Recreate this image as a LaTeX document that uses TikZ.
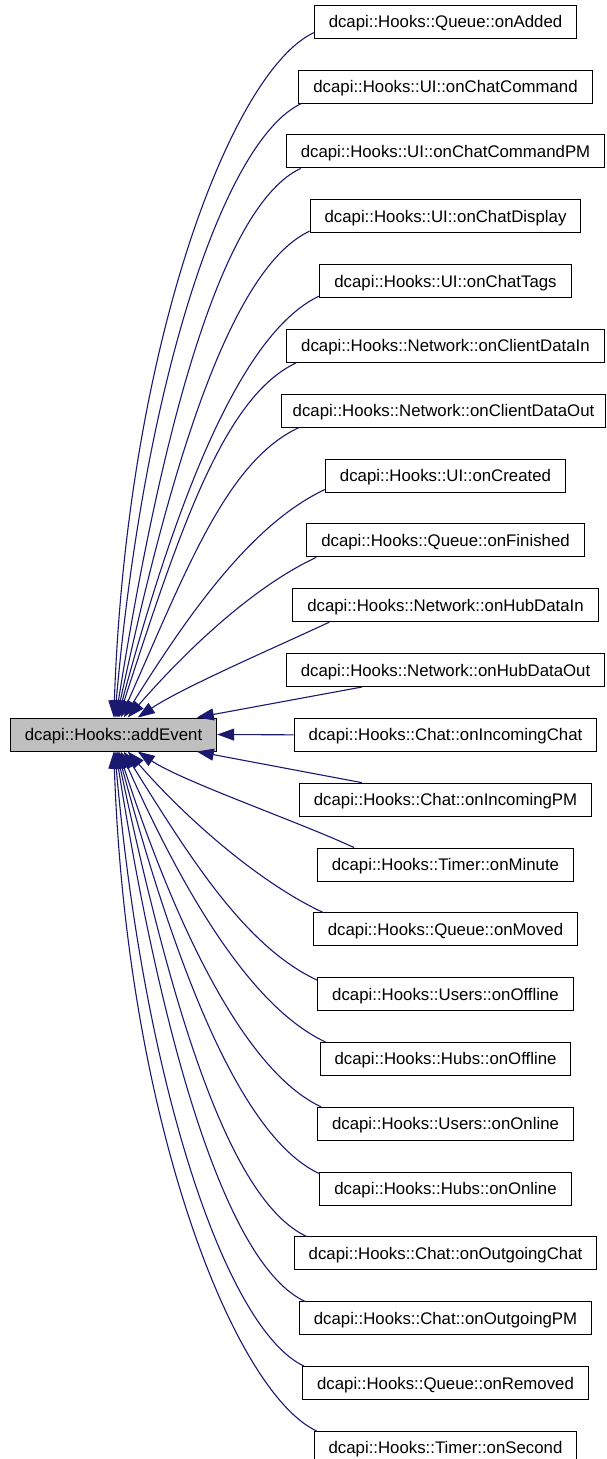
\documentclass[tikz,border=0pt]{standalone}
\usepackage{fontspec}
\setmainfont{Liberation Sans}
\usetikzlibrary{arrows.meta,calc}
\definecolor{edgeblue}{HTML}{191970}
\definecolor{focusgrey}{HTML}{BFBFBF}
\tikzset{
  fn/.style={draw=black, line width=1pt, fill=white,
    font=\fontsize{16.8pt}{20pt}\selectfont,
    inner xsep=14.5pt, inner ysep=0pt, minimum height=33pt,
    text height=12pt, text depth=0pt},
  focus/.style={fn, fill=focusgrey},
  edge/.style={draw=edgeblue, line width=1.1pt,
    -{Triangle[length=17pt,width=12pt]}}
}
\begin{document}
\begin{tikzpicture}[x=1pt,y=1pt]
\useasboundingbox (0,0) rectangle (606,-1459);
\fill[white] (0,0) rectangle (606,-1459);

\node[focus] (ae) at (113.5,-734.5) {dcapi::Hooks::addEvent};

\node[fn] (r0)  at (445.5,-21.7)   {dcapi::Hooks::Queue::onAdded};
\node[fn] (r1)  at (445.5,-86.53)  {dcapi::Hooks::UI::onChatCommand};
\node[fn] (r2)  at (445.5,-151.36) {dcapi::Hooks::UI::onChatCommandPM};
\node[fn] (r3)  at (445.5,-216.19) {dcapi::Hooks::UI::onChatDisplay};
\node[fn] (r4)  at (445.5,-281.02) {dcapi::Hooks::UI::onChatTags};
\node[fn] (r5)  at (445.5,-345.85) {dcapi::Hooks::Network::onClientDataIn};
\node[fn, inner xsep=11.5pt] (r6)  at (443.5,-410.68) {dcapi::Hooks::Network::onClientDataOut};
\node[fn] (r7)  at (445.5,-475.51) {dcapi::Hooks::UI::onCreated};
\node[fn] (r8)  at (445.5,-540.34) {dcapi::Hooks::Queue::onFinished};
\node[fn] (r9)  at (445.5,-605.17) {dcapi::Hooks::Network::onHubDataIn};
\node[fn] (r10) at (445.5,-670.0)  {dcapi::Hooks::Network::onHubDataOut};
\node[fn] (r11) at (445.5,-734.83) {dcapi::Hooks::Chat::onIncomingChat};
\node[fn] (r12) at (445.5,-799.66) {dcapi::Hooks::Chat::onIncomingPM};
\node[fn] (r13) at (445.5,-864.49) {dcapi::Hooks::Timer::onMinute};
\node[fn] (r14) at (445.5,-929.32) {dcapi::Hooks::Queue::onMoved};
\node[fn] (r15) at (445.5,-994.15) {dcapi::Hooks::Users::onOffline};
\node[fn] (r16) at (445.5,-1058.98) {dcapi::Hooks::Hubs::onOffline};
\node[fn] (r17) at (445.5,-1123.81) {dcapi::Hooks::Users::onOnline};
\node[fn] (r18) at (445.5,-1188.64) {dcapi::Hooks::Hubs::onOnline};
\node[fn] (r19) at (445.5,-1253.47) {dcapi::Hooks::Chat::onOutgoingChat};
\node[fn] (r20) at (445.5,-1318.3)  {dcapi::Hooks::Chat::onOutgoingPM};
\node[fn] (r21) at (445.5,-1383.13) {dcapi::Hooks::Queue::onRemoved};
\node[fn] (r22) at (445.5,-1447.96) {dcapi::Hooks::Timer::onSecond};

% upper edges
\draw[edge] ($(r0.south west)+(0,6)$)  to[out=205,in=88,out distance=90pt,in distance=374pt] ($(ae.north west)+(104,0)$);
\draw[edge] ($(r1.south west)+(3,0)$)  to[out=205,in=85,out distance=85pt,in distance=338pt] ($(ae.north west)+(105,0)$);
\draw[edge] ($(r2.south west)+(15,0)$) to[out=205,in=81,out distance=85pt,in distance=303pt] ($(ae.north west)+(106,0)$);
\draw[edge] ($(r3.south west)+(0,2)$)  to[out=205,in=78,out distance=85pt,in distance=267pt] ($(ae.north west)+(107,0)$);
\draw[edge] ($(r4.south west)+(0,2)$)  to[out=205,in=75,out distance=85pt,in distance=231pt] ($(ae.north west)+(108,0)$);
\draw[edge] ($(r5.south west)+(10,0)$) to[out=205,in=72,out distance=80pt,in distance=196pt] ($(ae.north west)+(109,0)$);
\draw[edge] ($(r6.south west)+(18,0)$) to[out=205,in=66,out distance=80pt,in distance=160pt] ($(ae.north west)+(111,0)$);
\draw[edge] ($(r7.south west)+(0,3)$)  to[out=205,in=58,out distance=80pt,in distance=124pt] ($(ae.north west)+(114,0)$);
\draw[edge] ($(r8.south west)+(10,0)$) to[out=205,in=49,out distance=70pt,in distance=89pt]  ($(ae.north west)+(118,0)$);
\draw[edge] ($(r9.south west)+(37,0)$) to[out=205,in=34,out distance=60pt,in distance=53pt]  ($(ae.north west)+(128,0)$);
% near edges
\draw[edge] ($(r10.south)+(-83.5,0)$) -- ($(ae.north west)+(187,0)$);
\draw[edge] (r11.west) -- (ae.east);
\draw[edge] ($(r12.north)+(-83.5,0)$) -- ($(ae.south west)+(187,0)$);
% lower edges
\draw[edge] ($(r13.north west)+(37,0)$) to[out=155,in=-34,out distance=60pt,in distance=53pt]  ($(ae.south west)+(128,0)$);
\draw[edge] ($(r14.north west)+(10,0)$) to[out=155,in=-49,out distance=70pt,in distance=89pt]  ($(ae.south west)+(118,0)$);
\draw[edge] ($(r15.north west)+(0,-3)$) to[out=155,in=-58,out distance=80pt,in distance=124pt] ($(ae.south west)+(114,0)$);
\draw[edge] ($(r16.north west)+(6,0)$)  to[out=155,in=-66,out distance=80pt,in distance=160pt] ($(ae.south west)+(111,0)$);
\draw[edge] ($(r17.north west)+(4,0)$)  to[out=155,in=-72,out distance=80pt,in distance=196pt] ($(ae.south west)+(109,0)$);
\draw[edge] ($(r18.north west)+(0,-2)$) to[out=155,in=-75,out distance=85pt,in distance=231pt] ($(ae.south west)+(108,0)$);
\draw[edge] ($(r19.north west)+(13,0)$) to[out=155,in=-78,out distance=85pt,in distance=267pt] ($(ae.south west)+(107,0)$);
\draw[edge] ($(r20.north west)+(6,0)$)  to[out=155,in=-81,out distance=85pt,in distance=303pt] ($(ae.south west)+(106,0)$);
\draw[edge] ($(r21.north west)+(2,0)$)  to[out=155,in=-85,out distance=85pt,in distance=338pt] ($(ae.south west)+(105,0)$);
\draw[edge] ($(r22.north west)+(3,0)$)  to[out=155,in=-88,out distance=90pt,in distance=374pt] ($(ae.south west)+(104,0)$);
\end{tikzpicture}
\end{document}
